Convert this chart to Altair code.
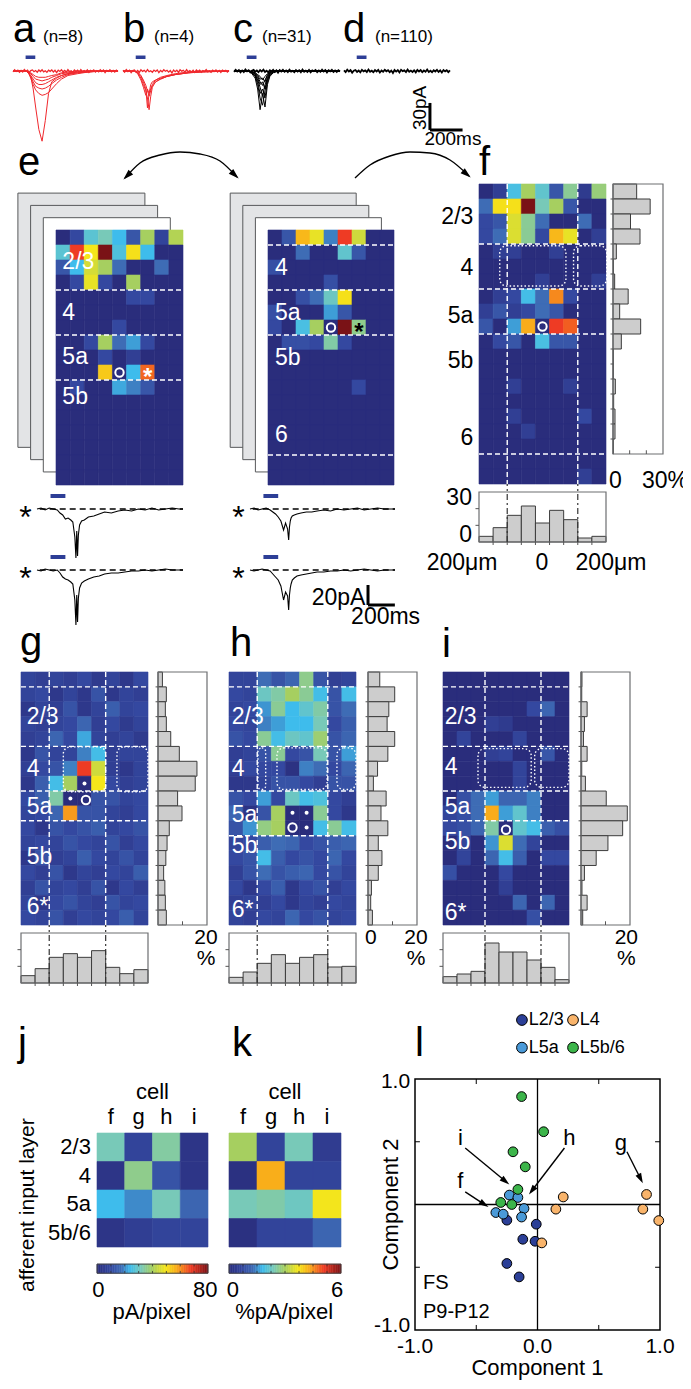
import altair as alt
import numpy as np
import pandas as pd

OFF = 8
FONT = "Liberation Sans"

# ---------------- colour map (jet-like, as in the figure) ----------------
JET_STOPS = [0, 0.12, 0.22, 0.30, 0.40, 0.50, 0.62, 0.72, 0.85, 1.0]
JET_COLS = ["#2a2d7c", "#3448a0", "#3e6cb5", "#3ebcec", "#78c9b8",
            "#a6cf60", "#f5e61a", "#f9ac1a", "#ee3b24", "#7a1216"]

# ---------------- a-d : example traces (ms, pA) ----------------
T_A = [0, 40, 80, 95, 110, 125, 140, 160, 180, 200, 220, 240, 270, 300, 340, 400, 470, 550, 650]
TRACES_A = [
    [0, 0, 0, -2, -6, -20, -40, -65, -78, -55, -25, -12, -8, -5, -3, -2, -1, 0, 0],
    [0, 0, 0, -2, -8, -15, -21, -25, -27, -26, -24, -20, -14, -9, -5, -3, -1, 0, 0],
    [0, 0, 0, -2, -6, -12, -17, -19, -20, -19, -17, -14, -10, -7, -4, -2, -1, 0, 0],
    [0, 0, 0, -1, -5, -9, -13, -15, -15, -14, -12, -10, -7, -5, -3, -1, 0, 0, 0],
    [0, 0, 0, -1, -3, -6, -9, -10, -11, -10, -9, -7, -5, -3, -2, -1, 0, 0, 0],
    [0, 0, 0, -1, -2, -4, -6, -7, -7, -7, -6, -5, -4, -2, -1, 0, 0, 0, 0],
]
T_B = [0, 70, 90, 110, 125, 140, 150, 160, 170, 180, 200, 230, 270, 320, 400, 500, 650]
TRACES_B = [
    [0, 0, -3, -10, -18, -27, -20, -25, -15, -12, -10, -8, -6, -4, -2, 0, 0],
    [0, 0, -2, -8, -15, -22, -30, -43, -28, -18, -12, -9, -6, -4, -2, -1, 0],
    [0, 0, -2, -6, -12, -20, -41, -25, -20, -16, -12, -9, -6, -4, -2, -1, 0],
    [0, 0, -1, -5, -10, -16, -22, -28, -22, -15, -10, -7, -5, -3, -1, 0, 0],
]
T_C = [0, 90, 110, 130, 145, 160, 175, 190, 205, 220, 240, 270, 650]
TRACES_C = [
    [0, 0, -3, -8, -20, -43, -25, -40, -15, -6, -2, 0, 0],
    [0, 0, -2, -6, -15, -30, -38, -22, -10, -4, -1, 0, 0],
    [0, 0, -2, -5, -12, -25, -20, -30, -12, -5, -1, 0, 0],
    [0, 0, -1, -4, -10, -18, -28, -15, -8, -3, -1, 0, 0],
    [0, 0, -1, -3, -8, -15, -12, -20, -7, -2, 0, 0, 0],
    [0, 0, -1, -3, -6, -12, -16, -10, -5, -2, 0, 0, 0],
    [0, 0, -1, -2, -5, -9, -8, -12, -4, -1, 0, 0, 0],
    [0, 0, 0, -2, -4, -6, -10, -6, -3, -1, 0, 0, 0],
]
T_N = list(range(0, 651, 10))
D_NOISE = [0.8, -1.2, 1.5, -0.6, 0.9, -1.8, 0.4, 1.1, -1.0, 0.6,
           -1.5, 1.3, -0.4, 0.7, -1.1, 1.6, -0.8, 0.3, -1.4, 1.0,
           -0.5, 1.2, -1.7, 0.6, -0.9, 1.4, -0.3, 0.8, -1.3, 0.5,
           -2.2, 1.1, -0.7, 0.9, -1.6, 1.3, -0.2, 0.7, -1.2, 1.5,
           -0.9, 0.4, -1.1, 0.8, -1.5, 1.2, -0.6, 1.0, -1.3, 0.5,
           -0.8, 1.6, -1.0, 0.3, -1.4, 0.9, -0.5, 1.2, -1.1, 0.7,
           -1.6, 1.0, -0.4, 0.8, -1.2, 0.6]
C_NOISE = [-0.9, 1.3, -0.5, 1.0, -1.4, 0.6, -1.1, 1.7, -0.3, 0.9,
           -1.6, 0.4, 1.2, -0.8, 0.5, -1.3, 1.1, -0.6, 1.4, -1.0,
           0.3, -1.5, 0.9, -0.4, 1.2, -1.1, 0.7, -1.8, 1.0, -0.5,
           1.3, -0.9, 0.6, -1.2, 1.5, -0.7, 0.2, -1.4, 1.1, -0.6,
           0.9, -1.3, 1.6, -0.8, 0.4, -1.0, 1.2, -1.5, 0.7, -0.3,
           1.1, -1.2, 0.5, -0.9, 1.4, -0.6, 1.0, -1.7, 0.8, -0.4,
           1.3, -1.0, 0.6, -1.1, 0.9, -0.5]
N_LABELS = ["(n=8)", "(n=4)", "(n=31)", "(n=110)"]

# ---------------- e : single-site traces (ms, pA) ----------------
T_E = [0, 30, 60, 90, 120, 150, 170, 190, 210, 230, 250, 265, 280, 288, 294, 300, 306, 315,
       330, 350, 380, 420, 460, 500, 550, 600, 650, 700, 750, 800, 850, 900, 950, 1000, 1050, 1080]
E_L1 = [0, 1, -1, 1, 0, -1, -4, -6, -10, -9, -11, -13, -28, -49, -22, -47, -26, -16,
        -12, -11, -8, -7, -5, -3, -4, -2, -1, -2, 0, -1, 1, -1, 0, 1, 0, 0]
E_L2 = [0, -1, 1, 0, -1, 0, -3, -7, -9, -10, -12, -14, -30, -55, -25, -52, -28, -18,
        -13, -11, -9, -7, -6, -4, -3, -3, -2, -1, -1, 0, -1, 0, 1, 0, 0, 0]
E_R1 = [0, 1, -1, 0, 1, -1, -3, -5, -8, -12, -21, -14, -20, -31, -18, -12, -9, -7,
        -6, -5, -4, -3, -3, -2, -1, -2, 0, -1, 0, 1, -1, 0, 1, 0, 0, 0]
E_R2 = [0, -1, 0, 1, 0, -1, -4, -7, -10, -16, -30, -22, -26, -40, -25, -18, -14, -10,
        -8, -6, -5, -4, -3, -2, -2, -1, -1, 0, -1, 0, 1, 0, -1, 0, 0, 0]

# ---------------- input maps (normalised amplitude 0..1) ----------------
MAP_E_LEFT = [
    [0, .12, .35, .4, .3, .16, .5, .1, .52],
    [.35, .85, .62, 1.0, .33, .63, .3, 0, 0],
    [.16, .3, .57, .5, .22, 0, 0, .22, 0],
    [0, .12, .6, .12, 0, .5, 0, 0, 0],
    [0, 0, 0, 0, 0, .12, .12, 0, 0],
    [0, 0, 0, 0, 0, 0, 0, 0, 0],
    [0, 0, 0, 0, .12, 0, 0, 0, 0],
    [0, 0, .12, .5, .22, .27, .12, 0, 0],
    [0, 0, 0, .12, 0, .08, 0, 0, 0],
    [0, 0, 0, .67, 0, .3, .8, 0, 0],
    [0, .12, 0, 0, .28, .24, .16, 0, 0],
    [0, 0, 0, 0, 0, 0, 0, 0, 0],
    [0, 0, 0, 0, 0, 0, 0, 0, 0],
    [0, 0, 0, 0, 0, 0, 0, 0, 0],
    [0, 0, 0, 0, 0, 0, 0, 0, 0],
    [0, 0, 0, 0, 0, 0, 0, 0, 0],
    [0, 0, 0, 0, 0, 0, 0, 0, 0],
]
MAP_E_RIGHT = [
    [0, .16, .7, .6, .24, .85, .56, 0, 0],
    [0, 0, .22, 0, 0, .36, .16, 0, 0],
    [.14, 0, 0, 0, 0, 0, 0, 0, 0],
    [0, 0, 0, 0, .14, 0, 0, 0, 0],
    [0, 0, .14, .22, .38, .63, 0, 0, 0],
    [.14, 0, 0, 0, .27, .16, 0, 0, 0],
    [.12, 0, .32, .5, 0, 1.0, .45, 0, 0],
    [0, .14, .14, .12, .42, .12, 0, 0, 0],
    [0, 0, 0, 0, 0, 0, 0, 0, 0],
    [0, 0, 0, 0, 0, 0, 0, 0, 0],
    [0, 0, 0, 0, 0, 0, .12, 0, 0],
    [0, 0, 0, 0, 0, 0, 0, 0, 0],
    [0, 0, 0, 0, 0, 0, 0, 0, 0],
    [0, 0, 0, 0, 0, 0, 0, 0, 0],
    [0, 0, 0, 0, 0, 0, 0, 0, 0],
    [0, 0, 0, 0, 0, 0, 0, 0, 0],
    [0, 0, 0, 0, 0, 0, 0, 0, 0],
]
MAP_F = [
    [0, .08, .32, .5, .36, .16, .44, .06, .47],
    [.22, .63, .63, 1.0, .4, .5, .16, 0, 0],
    [.12, .16, .58, .44, .22, 0, 0, .22, 0],
    [.12, .22, .58, .44, .12, .7, .6, 0, .08],
    [0, .08, .08, 0, 0, .08, 0, 0, 0],
    [0, 0, 0, 0, 0, 0, 0, 0, 0],
    [0, 0, 0, 0, .08, 0, 0, 0, .08],
    [0, .08, .12, .31, .22, .76, .12, 0, 0],
    [.08, .16, .08, .12, .22, .16, 0, 0, 0],
    [.16, 0, .27, .72, 0, .85, .81, 0, 0],
    [0, .12, .16, 0, .32, .16, .16, 0, 0],
    [0, 0, 0, 0, 0, 0, 0, 0, 0],
    [0, 0, 0, 0, 0, 0, 0, 0, 0],
    [0, 0, .08, 0, 0, 0, .08, 0, 0],
    [0, 0, 0, 0, 0, 0, 0, 0, 0],
    [0, 0, .08, 0, 0, 0, 0, .12, 0],
    [0, 0, 0, .08, 0, 0, 0, 0, 0],
    [0, 0, 0, 0, 0, 0, 0, 0, 0],
    [0, 0, 0, 0, 0, 0, 0, 0, 0],
    [0, 0, 0, 0, 0, 0, 0, .08, 0],
]
F_ROW_HIST = [14.2, 22.3, 10.5, 16.2, 2, 0.3, 1, 9.1, 4, 16.6, 5, 0.2, 0.2, 1.4, 0.4, 1.2, 1.2, 0.2]
F_COL_HIST = [3.4, 8.6, 16, 21.6, 11.4, 19, 13.4, 2.4, 3.4]

MAP_G = [
    [.1, .08, .1, .08, .12, .06, .1, .05, .12],
    [.1, .12, .05, .1, .05, .15, .05, .1, .08],
    [.05, .1, .08, .15, .05, .1, .18, .1, .12],
    [.1, .08, .1, .12, .2, .08, .12, .06, .1],
    [.08, .1, .2, .12, .28, .1, .08, .1, .06],
    [.05, .15, .1, .1, .24, .31, .08, .1, .1],
    [.08, .12, .15, .24, .85, .56, .08, .05, .1],
    [.05, .18, .31, .5, 0, .62, .12, .08, .1],
    [.12, .18, .42, 0, 0, .15, .15, .1, .12],
    [.1, .12, .2, .74, .15, .15, .1, .08, .12],
    [.12, .05, .15, .12, .15, .18, .1, .12, .15],
    [.1, .12, .1, .15, .12, .1, .15, .08, .12],
    [.05, .15, .08, .1, .18, .12, .1, .15, .1],
    [.12, .08, .15, .05, .1, .08, .12, .1, .18],
    [.08, .15, .1, .12, .08, .15, .05, .12, .08],
    [.1, .05, .12, .15, .1, .08, .15, .1, .12],
    [.12, .1, .15, .08, .12, .1, .12, .18, .1],
]
G_ROW_HIST = [1.8, 3.4, 3.0, 3.4, 5.2, 8.7, 15.9, 15.2, 8.0, 9.8, 4.6, 3.7, 3.2, 2.3, 2.8, 3.0, 3.4]
G_COL_HIST = [4.4, 8.6, 15.4, 17.6, 15.4, 19.4, 9.4, 5.6, 8]

MAP_H = [
    [.1, .1, .22, .15, .2, .45, .15, .08, .1],
    [.12, .1, .38, .42, .5, .44, .31, .15, .31],
    [.1, .12, .26, .44, .3, .36, .42, .15, .22],
    [.12, .1, .24, .27, .3, .3, .4, .12, .18],
    [.15, .12, .44, .31, .38, .36, .48, .15, .2],
    [.08, .1, .15, .44, .12, .15, .4, .15, .27],
    [.08, .12, .12, .12, .02, .24, .22, .12, .2],
    [.05, .05, .1, .15, .15, .12, .08, .15, .15],
    [.15, .12, .27, .12, .38, .31, .33, .12, .08],
    [.2, .03, .15, .5, 0, 0, .44, .12, .05],
    [.15, .26, .46, .5, 0, 0, .31, .44, .31],
    [.1, .12, .18, .22, .2, .12, .15, .18, .2],
    [.12, .15, .31, .18, .12, .15, .12, .2, .12],
    [.08, .15, .22, .15, .18, .2, .12, .15, .1],
    [.12, .05, .12, .18, .05, .12, .15, .08, .12],
    [.08, .1, .08, .12, .05, .1, .08, .12, .1],
    [.1, .08, .12, .1, .2, .12, .15, .1, .12],
]
H_ROW_HIST = [4.8, 10.9, 8.5, 7.8, 10.9, 8.1, 3.9, 2.2, 7.4, 5.3, 8.1, 4.2, 5.7, 4.2, 1.4, 1.1, 1.8]
H_COL_HIST = [3.4, 6.6, 11.8, 17, 11.8, 15.4, 17, 9.6, 10]

MAP_I = [
    [0, 0, 0, 0, 0, 0, 0, 0, 0],
    [0, 0, 0, 0, 0, 0, 0, 0, 0],
    [0, 0, 0, 0, 0, 0, .12, .2, 0],
    [0, 0, 0, .08, .06, 0, 0, 0, 0],
    [0, .1, 0, 0, 0, .1, 0, 0, 0],
    [0, 0, 0, .08, .1, 0, 0, .16, 0],
    [0, 0, 0, 0, 0, .1, 0, 0, 0],
    [0, 0, 0, 0, 0, .1, 0, 0, 0],
    [0, .14, .22, .27, .2, .2, .24, 0, 0],
    [.1, .14, .22, .72, .27, .36, .24, 0, 0],
    [.12, .14, .2, .42, 0, .36, .31, .18, .14],
    [0, .1, 0, .26, .58, .22, .1, 0, 0],
    [0, .1, 0, .2, .31, .18, 0, .12, .12],
    [.14, 0, 0, 0, .12, 0, 0, 0, 0],
    [0, 0, 0, 0, .08, 0, 0, 0, 0],
    [0, 0, 0, 0, 0, .2, 0, .2, 0],
    [0, 0, 0, 0, 0, 0, .14, 0, 0],
]
I_ROW_HIST = [0.4, 0.3, 2.5, 1.4, 1.0, 2.5, 0.3, 1.8, 10.3, 18.9, 17, 11, 6.2, 1.4, 0.4, 2.5, 0.7]
I_COL_HIST = [3.8, 5.4, 7, 24, 18.6, 18.6, 13.8, 9.4, 2]

# ---------------- j, k ----------------
CELLS = ["f", "g", "h", "i"]
LAYER_NAMES = ["2/3", "4", "5a", "5b/6"]
J_PA = [[32, 8, 34, 3], [3, 36, 12, 3], [24, 20, 32, 16], [3, 6, 8, 8]]
K_PCT = [[3.0, 0.6, 2.4, 0.4], [0.1, 4.3, 0.6, 0.6], [2.4, 2.5, 2.3, 3.7], [0.1, 0.6, 0.6, 1.2]]

# ---------------- l : PCA scatter ----------------
L23_X = [-0.25, -0.01, -0.12, -0.02, -0.25, -0.15]
L23_Y = [-0.125, -0.157, -0.277, -0.293, -0.47, -0.577]
L4_X = [0.21, 0.15, 0.035, 0.89, 0.86, 0.99]
L4_Y = [0.06, -0.037, -0.306, 0.08, -0.037, -0.128]
L5A_X = [-0.23, -0.16, -0.34, -0.28, -0.11, -0.13]
L5A_Y = [0.075, 0.056, -0.064, -0.077, -0.032, -0.10]
L5B_X = [-0.13, 0.05, -0.2, -0.1, -0.16, -0.3, -0.21]
L5B_Y = [0.86, 0.58, 0.42, 0.30, 0.12, 0.016, 0.0]
GROUP_COLS = {"L2/3": "#2b3f97", "L4": "#f9b46b", "L5a": "#4a9ad8", "L5b/6": "#3cb54a"}
ARROWS_L = [  # label, label x, label y, from x, from y, to x, to y
    ("i", -0.63, 0.53, -0.59, 0.45, -0.23, 0.16),
    ("h", 0.26, 0.53, 0.22, 0.45, -0.07, 0.08),
    ("g", 0.68, 0.49, 0.73, 0.42, 0.86, 0.17),
    ("f", -0.63, 0.19, -0.59, 0.10, -0.40, -0.02),
]

# =====================================================================
LAYERS = []
HEAD_PATH = "M0,-1L0.62,1L-0.62,1Z"


def S(d0, d1, p0, p1):
    return alt.Scale(domain=[d0, d1], range=[p0 - OFF, p1 - OFF], nice=False, zero=False)


class Panel:
    def __init__(self, xd, xp, yd, yp):
        self.xs = S(xd[0], xd[1], xp[0], xp[1])
        self.ys = S(yd[0], yd[1], yp[0], yp[1])

    def enc(self, **extra):
        e = dict(x=alt.X("x:Q", scale=self.xs, axis=None),
                 y=alt.Y("y:Q", scale=self.ys, axis=None))
        e.update(extra)
        return e


def add_rect(p, data, **mk):
    LAYERS.append(alt.Chart(pd.DataFrame(data)).mark_rect(**mk)
                  .encode(**p.enc(x2=alt.X2("x2"), y2=alt.Y2("y2"))))


def add_rule(p, data, **mk):
    LAYERS.append(alt.Chart(pd.DataFrame(data)).mark_rule(**mk)
                  .encode(**p.enc(x2=alt.X2("x2"), y2=alt.Y2("y2"))))


def add_text(p, data, **mk):
    mk.setdefault("font", FONT)
    LAYERS.append(alt.Chart(pd.DataFrame(data)).mark_text(**mk)
                  .encode(**p.enc(text=alt.Text("t:N"))))


def add_line(p, data, **mk):
    LAYERS.append(alt.Chart(pd.DataFrame(data)).mark_line(**mk)
                  .encode(**p.enc(detail=alt.Detail("id:N"))))


def add_points(p, data, **mk):
    LAYERS.append(alt.Chart(pd.DataFrame(data)).mark_point(**mk).encode(**p.enc()))


def head_geom(x1, y1, x2, y2, kx, ky, back=4.0):
    dx, dy = (x2 - x1) * kx, (y2 - y1) * ky
    L = float(np.hypot(dx, dy))
    ux, uy = dx / L, dy / L
    ang = float(np.degrees(np.arctan2(dx, -dy)) % 360)
    return x2 - ux * back / kx, y2 - uy * back / ky, ang


def add_head(p, x, y, ang, size=90):
    LAYERS.append(alt.Chart(pd.DataFrame(dict(x=[x], y=[y])))
                  .mark_point(shape=HEAD_PATH, filled=True, color="black", size=size,
                              opacity=1, angle=round(ang, 2))
                  .encode(**p.enc()))


def jet(maxv):
    return alt.Scale(domain=[s * maxv for s in JET_STOPS], range=JET_COLS,
                     interpolate="rgb", clamp=True, zero=False, nice=False)


def add_heat(p, grid, maxv=1.0):
    recs = [dict(x=c, x2=c + 1, y=r, y2=r + 1, v=v)
            for r, row in enumerate(grid) for c, v in enumerate(row)]
    sc = jet(maxv)
    LAYERS.append(alt.Chart(pd.DataFrame(recs)).mark_rect(strokeWidth=0.6)
                  .encode(**p.enc(x2=alt.X2("x2"), y2=alt.Y2("y2"),
                                  color=alt.Color("v:Q", scale=sc, legend=None),
                                  stroke=alt.Stroke("v:Q", scale=sc, legend=None))))


def hlines(p, rows, x0, x1, **mk):
    n = len(rows)
    add_rule(p, dict(x=[x0] * n, x2=[x1] * n, y=rows, y2=rows), **mk)


def vlines(p, cols, y0, y1, **mk):
    n = len(cols)
    add_rule(p, dict(x=cols, x2=cols, y=[y0] * n, y2=[y1] * n), **mk)


WDASH = dict(color="white", strokeDash=[5, 3], strokeWidth=1.4)
KDASH = dict(color="#333333", strokeDash=[6, 3, 2, 3], strokeWidth=1.2)
WDOT = dict(filled=False, stroke="white", strokeDash=[1.5, 2.2], strokeWidth=1.4, cornerRadius=7)
BAR = dict(fill="#cdcdcd", stroke="#3c3c3c", strokeWidth=1)
FRAME = dict(filled=False, stroke="#6d6e71", strokeWidth=1.2)


def right_hist(p, vals, maxv, nrows):
    n = len(vals)
    add_rect(p, dict(x=[0] * n, x2=vals, y=list(range(n)), y2=[r + 1 for r in range(n)]), **BAR)
    add_rect(p, dict(x=[0], x2=[maxv], y=[0], y2=[nrows]), **FRAME)
    rows = list(range(1, nrows))
    add_rule(p, dict(x=[-maxv * 0.05] * len(rows), x2=[0] * len(rows), y=rows, y2=rows),
             color="#555555", strokeWidth=1)
    tk = [10, 20] if maxv > 20 else [10]
    add_rule(p, dict(x=tk, x2=tk, y=[nrows] * len(tk), y2=[nrows - 0.25] * len(tk)),
             color="#555555", strokeWidth=1)


def bottom_hist(p, vals, maxv=30):
    n = len(vals)
    add_rect(p, dict(x=list(range(n)), x2=[c + 1 for c in range(n)], y=[0] * n, y2=vals), **BAR)
    add_rect(p, dict(x=[0], x2=[n], y=[0], y2=[maxv]), **FRAME)
    add_rule(p, dict(x=[-0.25, -0.25], x2=[0, 0], y=[10, 20], y2=[10, 20]), color="#555555", strokeWidth=1)
    cols = list(range(1, n))
    add_rule(p, dict(x=cols, x2=cols, y=[-1.8] * len(cols), y2=[0] * len(cols)), color="#555555", strokeWidth=1)


def heat_labels(p, items, x, color="white", align="left", size=23):
    add_text(p, dict(x=[x] * len(items), y=[r for _, r in items], t=[t for t, _ in items]),
             color=color, align=align, baseline="middle", fontSize=size)


def white_circle(p, xs, ys):
    add_points(p, dict(x=xs, y=ys), shape="circle", filled=False, color="white",
               strokeWidth=2, size=70, opacity=1)


def white_dots(p, xs, ys):
    add_points(p, dict(x=xs, y=ys), shape="circle", filled=True, color="white", size=16, opacity=1)


# ---------------- page annotations (panel letters, arcs) ----------------
PG = Panel((0, 691), (0, 691), (0, 1389), (0, 1389))
add_text(PG, dict(x=[13, 123, 233, 343, 18, 479, 20, 230, 442, 18, 232, 415],
                  y=[42, 42, 42, 42, 175, 175, 655, 656, 657, 1056, 1056, 1056],
                  t=list("abcdefghijkl")),
         fontSize=40, align="left", baseline="alphabetic", color="black")
add_text(PG, dict(x=[43, 154, 262, 375], y=[42, 42, 42, 42], t=N_LABELS),
         fontSize=17, align="left", baseline="alphabetic", color="black")

ARC1_X = [125, 140, 160, 180, 200, 220, 237]
ARC1_Y = [178, 163, 155, 152, 154, 161, 177]
ARC2_X = [355, 370, 390, 410, 430, 450, 469]
ARC2_Y = [178, 165, 156, 152, 153, 160, 176]
add_line(PG, dict(x=ARC1_X + ARC2_X, y=ARC1_Y + ARC2_Y, id=[1] * 7 + [2] * 7),
         interpolate="monotone", color="black", strokeWidth=1.4)
for (x1, y1, x2, y2) in [(ARC1_X[1], ARC1_Y[1], ARC1_X[0], ARC1_Y[0]),
                         (ARC1_X[-2], ARC1_Y[-2], ARC1_X[-1], ARC1_Y[-1]),
                         (ARC2_X[-2], ARC2_Y[-2], ARC2_X[-1], ARC2_Y[-1])]:
    a, b, c = head_geom(x1, y1, x2, y2, 1.0, 1.0, back=3)
    add_head(PG, a, b, c, size=110)

# ---------------- a-d traces ----------------
TOP_X = [(13, 118), (123, 229), (234, 340), (344, 450)]
STIM = "#2d3e96"
RED = "#f0282d"
top_panels = [Panel((0, 650), xp, (-80, 10), (143, 62)) for xp in TOP_X]
for k, p in enumerate(top_panels):
    col = RED if k < 2 else "black"
    noise = D_NOISE if k % 2 == 1 else C_NOISE
    add_line(p, dict(x=T_N, y=noise, id=[0] * len(T_N)), color=col,
             strokeWidth=1.3 if k < 2 else 1.8)
    if k == 0:
        T, TR = T_A, TRACES_A
    elif k == 1:
        T, TR = T_B, TRACES_B
    elif k == 2:
        T, TR = T_C, TRACES_C
    else:
        T, TR = None, []
    if TR:
        xs, ys, ids = [], [], []
        for i, tr in enumerate(TR):
            xs += T; ys += tr; ids += [i] * len(T)
        add_line(p, dict(x=xs, y=ys, id=ids), color=col, strokeWidth=1)
    add_rect(p, dict(x=[78], x2=[138], y=[13.3], y2=[17.2]), color=STIM)

# scale bar (in panel d units: ms / pA)
pd_ = top_panels[3]
add_rule(pd_, dict(x=[527, 527], x2=[527, 727], y=[-65.5, -65.5], y2=[-35.5, -65.5]),
         color="black", strokeWidth=3)
add_text(pd_, dict(x=[466], y=[-41], t=["30pA"]), angle=270, fontSize=19,
         align="center", baseline="middle", color="black")
add_text(pd_, dict(x=[668], y=[-75.5], t=["200ms"]), fontSize=19,
         align="center", baseline="middle", color="black")

# ---------------- e : stacked maps ----------------
P_EL = Panel((0, 9), (56, 183), (0, 17), (230, 485))
P_ER = Panel((0, 9), (268, 394), (0, 17), (230, 485))
for p in (P_EL, P_ER):
    for k in (3, 2, 1):
        add_rect(p, dict(x=[-0.9 * k], x2=[9 - 0.9 * k], y=[-0.82 * k], y2=[16.95 - 0.82 * k]),
                 fill="#e3e4e6" if k > 1 else "white", stroke="#58595b", strokeWidth=1)
add_heat(P_EL, MAP_E_LEFT)
add_heat(P_ER, MAP_E_RIGHT)
hlines(P_EL, [4, 7, 10], 0, 9, **WDASH)
hlines(P_ER, [1, 4, 7, 15], 0, 9, **WDASH)
heat_labels(P_EL, [("2/3", 2.13), ("4", 5.53), ("5a", 8.47), ("5b", 11.1)], 0.45)
heat_labels(P_ER, [("4", 2.53), ("5a", 5.53), ("5b", 8.53), ("6", 13.67)], 0.5)
white_circle(P_EL, [4.5], [9.5])
white_circle(P_ER, [4.5], [6.5])
add_text(P_EL, dict(x=[6.5], y=[9.5], t=["*"]), color="white", fontSize=24, fontWeight="bold",
         align="center", baseline="middle", dy=5)
add_text(P_ER, dict(x=[6.5], y=[6.5], t=["*"]), color="black", fontSize=24, fontWeight="bold",
         align="center", baseline="middle", dy=5)

# ---------------- e : traces ----------------
E_PANELS = [
    (Panel((0, 1080), (37, 183), (-60, 20), (569, 489)), E_L1),
    (Panel((0, 1080), (37, 183), (-60, 20), (630, 550)), E_L2),
    (Panel((0, 1080), (250, 395), (-60, 20), (569, 489)), E_R1),
    (Panel((0, 1080), (250, 395), (-60, 20), (630, 550)), E_R2),
]
for p, tr in E_PANELS:
    add_rect(p, dict(x=[100], x2=[210], y=[11], y2=[15]), color=STIM)
    add_rule(p, dict(x=[20], x2=[1080], y=[0], y2=[0]), color="black", strokeDash=[6, 4], strokeWidth=1.3)
    add_line(p, dict(x=T_E, y=tr, id=[0] * len(T_E)), color="black", strokeWidth=1.1)
    add_text(p, dict(x=[-85], y=[-2], t=["*"]), color="black", fontSize=32,
             align="center", baseline="middle", dy=7)
pe = E_PANELS[3][0]
add_rule(pe, dict(x=[879, 879], x2=[879, 1079], y=[-35, -35], y2=[-15, -35]), color="black", strokeWidth=3)
add_text(pe, dict(x=[860], y=[-28], t=["20pA"]), fontSize=23, align="right", baseline="middle", color="black")
add_text(pe, dict(x=[1010], y=[-47], t=["200ms"]), fontSize=23, align="center", baseline="middle", color="black")

# ---------------- f ----------------
P_F = Panel((0, 9), (479, 606), (0, 20), (184, 484))
P_FR = Panel((0, 30), (613, 663), (0, 20), (184, 484))
P_FB = Panel((0, 9), (479, 606), (0, 30), (542, 492))
add_heat(P_F, MAP_F)
hlines(P_F, [4, 7, 10, 18], 0, 9, **WDASH)
vlines(P_F, [2, 7], 0, 20, **WDASH)
add_rect(P_F, dict(x=[1.47, 6.7], x2=[6.16, 9.05], y=[4.12, 4.12], y2=[6.8, 6.8]), **WDOT)
white_circle(P_F, [4.5], [9.5])
heat_labels(P_F, [("2/3", 2.2), ("4", 5.6), ("5a", 8.8), ("5b", 11.8), ("6", 16.9)], -0.4,
            color="black", align="right")
right_hist(P_FR, F_ROW_HIST, 30, 18)
bottom_hist(P_FB, F_COL_HIST, 30)
vlines(P_FB, [2, 7], 0, 34.8, **KDASH)
add_text(P_FR, dict(x=[1.5, 31.2], y=[19.8, 19.8], t=["0", "30%"]), fontSize=23,
         align="center", baseline="middle", color="black")
add_text(P_FB, dict(x=[-0.5, -0.5], y=[26.4, 4.2], t=["30", "0"]), fontSize=23,
         align="right", baseline="middle", color="black")
add_text(P_FB, dict(x=[-1.2, 4.46, 9.35], y=[-12.6] * 3, t=["200μm", "0", "200μm"]),
         fontSize=23, align="center", baseline="middle", color="black")

# ---------------- g, h, i ----------------
GHI = [
    dict(xp=(21, 148), rp=(158, 207), grid=MAP_G, rh=G_ROW_HIST, ch=G_COL_HIST,
         hl=[1, 5, 8, 10], vl=[2, 6], lx=0.4,
         labels=[("2/3", 3.0), ("4", 6.5), ("5a", 9.1), ("5b", 12.4), ("6*", 15.8)],
         dots=[(3.0, 5.03, 6.0, 8.05), (6.8, 5.03, 9.0, 8.05)],
         circ=([4.6], [8.6]), wd=([4.5, 3.5], [7.5, 8.5]),
         ticklab=[("20", 19.6)]),
    dict(xp=(229, 356), rp=(368, 417), grid=MAP_H, rh=H_ROW_HIST, ch=H_COL_HIST,
         hl=[1, 5, 8, 11], vl=[2, 7], lx=0.2,
         labels=[("2/3", 3.0), ("4", 6.5), ("5a", 9.6), ("5b", 11.7), ("6*", 16.0)],
         dots=[(2.05, 5.1, 2.6, 7.9), (3.4, 5.1, 6.95, 7.9), (7.65, 5.1, 9.0, 7.9)],
         circ=([4.5], [10.45]), wd=([4.5, 5.5, 5.5], [9.45, 9.45, 10.45]),
         ticklab=[("0", 1.2), ("20", 19.6)]),
    dict(xp=(443, 569), rp=(581, 630), grid=MAP_I, rh=I_ROW_HIST, ch=I_COL_HIST,
         hl=[1, 5, 8, 10], vl=[3, 7], lx=0.12,
         labels=[("2/3", 3.0), ("4", 6.4), ("5a", 9.1), ("5b", 11.4), ("6*", 16.2)],
         dots=[(2.5, 5.15, 6.3, 7.75), (6.55, 5.15, 9.0, 7.75)],
         circ=([4.5], [10.6]), wd=None,
         ticklab=[("20", 18.5)]),
]
for d in GHI:
    p = Panel((0, 9), d["xp"], (0, 17), (672, 925))
    pr = Panel((0, 20), d["rp"], (0, 17), (672, 925))
    pb = Panel((0, 9), d["xp"], (0, 30), (983, 933))
    add_heat(p, d["grid"])
    hlines(p, d["hl"], 0, 9, **WDASH)
    vlines(p, d["vl"], 0, 17, **WDASH)
    dd = d["dots"]
    add_rect(p, dict(x=[q[0] for q in dd], x2=[q[2] for q in dd],
                     y=[q[1] for q in dd], y2=[q[3] for q in dd]), **WDOT)
    heat_labels(p, d["labels"], d["lx"])
    white_circle(p, *d["circ"])
    if d["wd"]:
        white_dots(p, *d["wd"])
    right_hist(pr, d["rh"], 20, 17)
    bottom_hist(pb, d["ch"], 30)
    vlines(pb, d["vl"], 0, 34.8, **KDASH)
    tl = d["ticklab"]
    add_text(pr, dict(x=[v for _, v in tl], y=[17.9] * len(tl), t=[t for t, _ in tl]),
             fontSize=21, align="center", baseline="middle", color="black")
    add_text(pr, dict(x=[tl[-1][1]], y=[19.3], t=["%"]), fontSize=21,
             align="center", baseline="middle", color="black")

# ---------------- j, k ----------------
for xp, vals, maxv, ticks, unit in [((97, 208), J_PA, 80, ["0", "80"], "pA/pixel"),
                                     ((229, 341), K_PCT, 6, ["0", "6"], "%pA/pixel")]:
    p = Panel((0, 4), xp, (0, 4), (1133, 1247))
    add_heat(p, vals, maxv)
    add_text(p, dict(x=[0.5, 1.5, 2.5, 3.5], y=[-0.56] * 4, t=CELLS), fontSize=22,
             align="center", baseline="middle", color="black")
    add_text(p, dict(x=[2], y=[-1.44], t=["cell"]), fontSize=22, align="center",
             baseline="middle", color="black")
    # colour bar
    steps = np.linspace(0, 4, 65)
    cb = dict(x=list(steps[:-1]), x2=list(steps[1:]), y=[4.6] * 64, y2=[4.92] * 64,
              v=list((steps[:-1] + 0.03125) / 4 * maxv))
    sc = jet(maxv)
    LAYERS.append(alt.Chart(pd.DataFrame(cb)).mark_rect(strokeWidth=0.5)
                  .encode(**p.enc(x2=alt.X2("x2"), y2=alt.Y2("y2"),
                                  color=alt.Color("v:Q", scale=sc, legend=None),
                                  stroke=alt.Stroke("v:Q", scale=sc, legend=None))))
    add_rect(p, dict(x=[0], x2=[4], y=[4.6], y2=[4.92]), filled=False, stroke="#444444", strokeWidth=1)
    tk = [0.5 * i for i in range(1, 8)]
    add_rule(p, dict(x=tk + tk, x2=tk + tk, y=[4.6] * 7 + [4.84] * 7, y2=[4.68] * 7 + [4.92] * 7),
             color="#333333", strokeWidth=0.8)
    add_text(p, dict(x=[0.05 if maxv == 80 else 0.14, 3.9 if maxv == 80 else 3.86], y=[5.5, 5.5], t=ticks),
             fontSize=22, align="center", baseline="middle", color="black")
    add_text(p, dict(x=[1.97], y=[6.28], t=[unit]), fontSize=22, align="center",
             baseline="middle", color="black")
    if maxv == 80:
        add_text(p, dict(x=[-0.22] * 4, y=[0.5, 1.5, 2.5, 3.5], t=LAYER_NAMES), fontSize=22,
                 align="right", baseline="middle", color="black")
        add_text(p, dict(x=[-2.5], y=[2.53], t=["afferent input layer"]), fontSize=21, angle=270,
                 align="center", baseline="middle", color="black")

# ---------------- l ----------------
P_L = Panel((-1, 1), (415, 660), (-1, 1), (1330, 1079))
add_rule(P_L, dict(x=[0, -1], x2=[0, 1], y=[-1, 0], y2=[1, 0]), color="black", strokeWidth=1.3)
tk = [-0.5, 0.5]
add_rule(P_L, dict(x=tk + tk + [-1, -1, 1, 1], x2=tk + tk + [-0.96, -0.96, 0.96, 0.96],
                   y=[1, 1, -1, -1] + tk + tk, y2=[0.96, 0.96, -0.96, -0.96] + tk + tk),
         color="black", strokeWidth=1)
add_rect(P_L, dict(x=[-1], x2=[1], y=[-1], y2=[1]), filled=False, stroke="black", strokeWidth=1.5)
for name, xs, ys in [("L2/3", L23_X, L23_Y), ("L4", L4_X, L4_Y),
                     ("L5a", L5A_X, L5A_Y), ("L5b/6", L5B_X, L5B_Y)]:
    add_points(P_L, dict(x=xs, y=ys), shape="circle", filled=True, fill=GROUP_COLS[name],
               stroke="black", strokeWidth=1, size=95, opacity=1)
LEG = [("L2/3", -0.127, 1.47), ("L4", 0.29, 1.47), ("L5a", -0.127, 1.25), ("L5b/6", 0.29, 1.25)]
for name, lx, ly in LEG:
    add_points(P_L, dict(x=[lx], y=[ly]), shape="circle", filled=True, fill=GROUP_COLS[name],
               stroke="black", strokeWidth=1, size=115, opacity=1)
add_text(P_L, dict(x=[q[1] + 0.055 for q in LEG], y=[q[2] for q in LEG], t=[q[0] for q in LEG]),
         fontSize=18, align="left", baseline="middle", color="black")
# arrows
for lab, lx, ly, x1, y1, x2, y2 in ARROWS_L:
    hxp, hyp, ang = head_geom(x1, y1, x2, y2, 122.5, -125.5, back=5)
    add_rule(P_L, dict(x=[x1], y=[y1], x2=[hxp], y2=[hyp]), color="black", strokeWidth=1.4)
    add_head(P_L, hxp, hyp, ang, size=100)
add_text(P_L, dict(x=[q[1] for q in ARROWS_L], y=[q[2] for q in ARROWS_L], t=[q[0] for q in ARROWS_L]),
         fontSize=22, align="center", baseline="middle", color="black")
# tick labels and titles
add_text(P_L, dict(x=[-1.04, -1.04], y=[0.98, -0.97], t=["1.0", "-1.0"]), fontSize=21,
         align="right", baseline="middle", color="black")
add_text(P_L, dict(x=[-1, 0, 1], y=[-1.135] * 3, t=["-1.0", "0.0", "1.0"]), fontSize=21,
         align="center", baseline="middle", color="black")
add_text(P_L, dict(x=[0], y=[-1.3], t=["Component 1"]), fontSize=22, align="center",
         baseline="middle", color="black")
add_text(P_L, dict(x=[-1.2], y=[0], t=["Component 2"]), fontSize=22, angle=270, align="center",
         baseline="middle", color="black")
add_text(P_L, dict(x=[-0.935, -0.935], y=[-0.625, -0.857], t=["FS", "P9-P12"]), fontSize=20,
         align="left", baseline="middle", color="black")

chart = (alt.layer(*LAYERS)
         .resolve_scale(x="independent", y="independent", color="independent", stroke="independent")
         .properties(width=675, height=1373, autosize=alt.AutoSizeParams(type="none"), padding=0)
         .configure_view(stroke=None))
chart.save("out.html", embed_options={"renderer": "svg", "actions": False})
